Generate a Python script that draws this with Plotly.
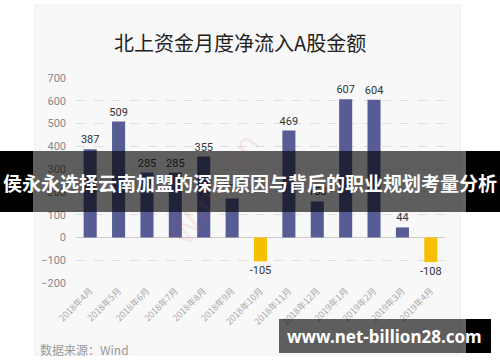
import plotly.graph_objects as go

months = ["2018年4月", "2018年5月", "2018年6月", "2018年7月", "2018年8月", "2018年9月",
          "2018年10月", "2018年11月", "2018年12月", "2019年1月", "2019年2月", "2019年3月", "2019年4月"]
values = [387, 509, 285, 285, 355, 171, -105, 469, 158, 607, 604, 44, -108]
y_ticks = [-200, -100, 0, 100, 200, 300, 400, 500, 600, 700]

title_text = "北上资金月度净流入A股金额"
banner_text = "侯永永选择云南加盟的深层原因与背后的职业规划考量分析"
url_text = "www.net-billion28.com"
source_text = "数据来源：Wind"

W, H = 500, 362
L, R = 76, 445      # plot area pixel bounds (x)
T, B = 78, 283      # plot area pixel bounds (y): 700 at T, -200 at B

def px(x):
    return (x - L) / (R - L)

def py(y):
    return (B - y) / (B - T)

pos_color = "#575c94"
neg_color = "#f6c000"
colors = [pos_color if v >= 0 else neg_color for v in values]
labels = [str(v) for v in values]

fig = go.Figure()
fig.add_trace(go.Bar(
    x=months, y=values, marker_color=colors, marker_line_width=0,
    text=labels, textposition="outside", cliponaxis=False, constraintext="none",
    textfont=dict(size=11, color="#333333", family="Roboto, Arial, sans-serif"),
    width=0.46,
))

CJK = "Noto Sans CJK SC, sans-serif"

shapes = [
    # card background
    dict(type="rect", xref="paper", yref="paper", x0=px(35), x1=px(460), y0=py(355), y1=py(5),
         fillcolor="#f8f8f8", line=dict(color="#eeeeee", width=1), layer="below"),
    # banner: black side bars and translucent center
    dict(type="rect", xref="paper", yref="paper", x0=px(0), x1=px(33), y0=py(212), y1=py(151),
         fillcolor="#000000", line_width=0, layer="above"),
    dict(type="rect", xref="paper", yref="paper", x0=px(466), x1=px(500), y0=py(212), y1=py(151),
         fillcolor="#000000", line_width=0, layer="above"),
    dict(type="rect", xref="paper", yref="paper", x0=px(33), x1=px(466), y0=py(212), y1=py(151),
         fillcolor="rgba(0,0,0,0.62)", line_width=0, layer="above"),
    # url banner
    dict(type="rect", xref="paper", yref="paper", x0=px(279), x1=px(466), y0=py(353), y1=py(319),
         fillcolor="rgba(0,0,0,0.62)", line_width=0, layer="above"),
    dict(type="rect", xref="paper", yref="paper", x0=px(466), x1=px(491), y0=py(353), y1=py(319),
         fillcolor="#000000", line_width=0, layer="above"),
]

annotations = [
    dict(text=title_text, xref="paper", yref="paper", x=px(240), y=py(42), showarrow=False,
         font=dict(size=20, color="#222222", family=CJK), xanchor="center", yanchor="middle"),
    dict(text="Wind.cn", xref="paper", yref="paper", x=px(215), y=py(190), showarrow=False,
         textangle=-55, font=dict(size=32, color="rgba(230,70,70,0.10)", family="Arial Black, DejaVu Sans"),
         xanchor="center", yanchor="middle"),
    dict(text="<b>" + banner_text + "</b>", xref="paper", yref="paper", x=px(250), y=py(182), showarrow=False,
         font=dict(size=19, color="#ffffff", family=CJK), xanchor="center", yanchor="middle"),
    dict(text="<b>" + url_text + "</b>", xref="paper", yref="paper", x=px(384), y=py(336), showarrow=False,
         font=dict(size=17, color="#ffffff", family="Noto Sans, sans-serif"), xanchor="center", yanchor="middle"),
    dict(text=source_text, xref="paper", yref="paper", x=px(38), y=py(349), showarrow=False,
         font=dict(size=12, color="#999999", family=CJK), xanchor="left", yanchor="middle"),
]

fig.update_layout(
    width=W, height=H,
    margin=dict(l=L, r=W - R, t=T, b=H - B, pad=0, autoexpand=False),
    paper_bgcolor="#ffffff", plot_bgcolor="#f8f8f8",
    showlegend=False, bargap=0.54,
    shapes=shapes, annotations=annotations,
    font=dict(family=CJK),
)
fig.update_xaxes(
    range=[-0.5, len(months) - 0.5], tickangle=-45, showgrid=False, showline=False, ticks="",
    tickfont=dict(size=9, color="#aaaaaa", family=CJK), automargin=False,
)
fig.update_yaxes(
    range=[-200, 700], tickvals=y_ticks, showgrid=True, gridcolor="#dddddd", griddash="dash",
    gridwidth=1, zeroline=True, zerolinecolor="#cccccc", zerolinewidth=1, showline=False, ticks="",
    tickfont=dict(size=11, color="#888888", family="Roboto, Arial, sans-serif"),
    ticklabelstandoff=9, automargin=False,
)

fig.write_html("out.html", config={"displayModeBar": False},
               post_script="document.body.style.margin='0';document.body.style.overflow='hidden';")
